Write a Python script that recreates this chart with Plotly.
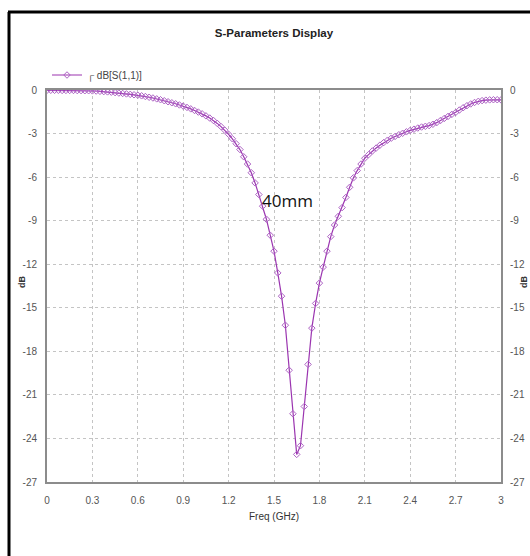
import plotly.graph_objects as go

freq_ghz = [
    0.000, 0.025, 0.050, 0.075, 0.100, 0.125, 0.150, 0.175, 0.200, 0.225,
    0.250, 0.275, 0.300, 0.325, 0.350, 0.375, 0.400, 0.425, 0.450, 0.475,
    0.500, 0.525, 0.550, 0.575, 0.600, 0.625, 0.650, 0.675, 0.700, 0.725,
    0.750, 0.775, 0.800, 0.825, 0.850, 0.875, 0.900, 0.925, 0.950, 0.975,
    1.000, 1.025, 1.050, 1.075, 1.100, 1.125, 1.150, 1.175, 1.200, 1.225,
    1.250, 1.275, 1.300, 1.325, 1.350, 1.375, 1.400, 1.425, 1.450, 1.475,
    1.500, 1.525, 1.550, 1.575, 1.600, 1.625, 1.650, 1.675, 1.700, 1.725,
    1.750, 1.775, 1.800, 1.825, 1.850, 1.875, 1.900, 1.925, 1.950, 1.975,
    2.000, 2.025, 2.050, 2.075, 2.100, 2.125, 2.150, 2.175, 2.200, 2.225,
    2.250, 2.275, 2.300, 2.325, 2.350, 2.375, 2.400, 2.425, 2.450, 2.475,
    2.500, 2.525, 2.550, 2.575, 2.600, 2.625, 2.650, 2.675, 2.700, 2.725,
    2.750, 2.775, 2.800, 2.825, 2.850, 2.875, 2.900, 2.925, 2.950, 2.975,
    3.000,
]

s11_db = [
    -0.02, -0.02, -0.02, -0.02, -0.03, -0.03, -0.03, -0.03, -0.04, -0.04,
    -0.05, -0.05, -0.06, -0.07, -0.09, -0.11, -0.13, -0.15, -0.18, -0.21,
    -0.24, -0.27, -0.30, -0.33, -0.36, -0.40, -0.45, -0.50, -0.55, -0.61,
    -0.67, -0.74, -0.81, -0.88, -0.95, -1.03, -1.11, -1.20, -1.30, -1.41,
    -1.52, -1.64, -1.78, -1.93, -2.10, -2.30, -2.52, -2.77, -3.05, -3.36,
    -3.70, -4.10, -4.60, -5.10, -5.70, -6.40, -7.20, -8.00, -8.90, -10.00,
    -11.10, -12.60, -14.20, -16.20, -19.30, -22.30, -25.10, -24.50, -21.80, -18.90,
    -16.40, -14.70, -13.30, -12.20, -11.10, -10.10, -9.30, -8.70, -8.10, -7.40,
    -6.70, -6.05, -5.55, -5.10, -4.70, -4.45, -4.20, -4.00, -3.80, -3.62,
    -3.46, -3.32, -3.20, -3.08, -2.98, -2.88, -2.78, -2.70, -2.62, -2.55,
    -2.50, -2.45, -2.36, -2.25, -2.10, -1.96, -1.82, -1.68, -1.55, -1.38,
    -1.22, -1.08, -0.96, -0.86, -0.78, -0.73, -0.70, -0.68, -0.67, -0.67,
    -0.68,
]

x_ticks = [0, 0.3, 0.6, 0.9, 1.2, 1.5, 1.8, 2.1, 2.4, 2.7, 3]
x_tick_text = ["0", "0.3", "0.6", "0.9", "1.2", "1.5", "1.8", "2.1", "2.4", "2.7", "3"]
y_ticks = [0, -3, -6, -9, -12, -15, -18, -21, -24, -27]
y_tick_text = ["0", "-3", "-6", "-9", "-12", "-15", "-18", "-21", "-24", "-27"]

series_name = "┌ dB[S(1,1)]"
chart_title = "S-Parameters Display"
note_text = "40mm"
y_title = "dB"

W, H = 530, 556
ML, MR, MT, MB = 47, 29, 90, 74
pw = W - ML - MR
ph = H - MT - MB

FONT = "Liberation Sans Narrow, Arial Narrow, Liberation Sans, Arial, sans-serif"
tick_font = dict(family=FONT, size=10, color="#555555")


def px_x(p):
    return (p - ML) / pw


def px_y(p):
    return (H - MB - p) / ph


fig = go.Figure()
fig.add_trace(go.Scatter(
    x=freq_ghz, y=s11_db, mode="lines+markers", name=series_name,
    line=dict(color="#9b35b0", width=1.2),
    marker=dict(symbol="diamond-open", size=5, color="#ad62c4", line=dict(width=1)),
))
fig.add_trace(go.Scatter(
    x=freq_ghz, y=s11_db, mode="lines", yaxis="y2", showlegend=False,
    line=dict(color="rgba(0,0,0,0)"), hoverinfo="skip",
))

axis_common = dict(
    showline=True, linecolor="#8c8c8c", linewidth=2,
    gridcolor="#c4c4c4", griddash="dot", gridwidth=1,
    zeroline=False, ticks="", tickfont=tick_font, automargin=False,
)

fig.update_layout(
    width=W, height=H,
    margin=dict(l=ML, r=MR, t=MT, b=MB, autoexpand=False),
    paper_bgcolor="white", plot_bgcolor="white",
    title=dict(text="<b>" + chart_title + "</b>", x=(ML + pw / 2) / W, xanchor="center",
               y=1 - 33 / H, yanchor="middle",
               font=dict(family=FONT, size=11.5, color="#222222")),
    xaxis=dict(range=[0, 3], tickvals=x_ticks, ticktext=x_tick_text, mirror=True,
               title=dict(text="Freq (GHz)", standoff=8,
                          font=dict(family=FONT, size=10, color="#333333")),
               ticklabelstandoff=8, **axis_common),
    yaxis=dict(range=[-27, 0], tickvals=y_ticks, ticktext=y_tick_text, mirror=True,
               ticklabelstandoff=6, **axis_common),
    yaxis2=dict(range=[-27, 0], tickvals=y_ticks, ticktext=y_tick_text, overlaying="y",
                side="right", showgrid=False, showline=True, linecolor="#8c8c8c", linewidth=2,
                zeroline=False, ticks="", tickfont=tick_font, ticklabelstandoff=5,
                automargin=False),
    legend=dict(x=0.0, y=px_y(75), xanchor="left", yanchor="middle",
                bgcolor="rgba(0,0,0,0)", itemwidth=30,
                font=dict(family=FONT, size=10, color="#444444")),
    showlegend=True,
)

fig.add_annotation(x=1.59, y=-7.6, xref="x", yref="y", text=note_text, showarrow=False,
                   font=dict(family="Open Sans, Noto Sans, sans-serif", size=17, color="#111111"))

for xp in (22, 524):
    fig.add_annotation(x=px_x(xp), y=px_y(282), xref="paper", yref="paper",
                       text="<b>" + y_title + "</b>", textangle=-90, showarrow=False,
                       xanchor="center", yanchor="middle",
                       font=dict(family=FONT, size=9, color="#333333"))

# outer frame: left and top edges visible
fig.add_shape(type="line", xref="paper", yref="paper",
              x0=px_x(9), x1=px_x(9), y0=px_y(12), y1=px_y(H),
              line=dict(color="black", width=3), layer="above")
fig.add_shape(type="line", xref="paper", yref="paper",
              x0=px_x(8), x1=px_x(W), y0=px_y(12), y1=px_y(12),
              line=dict(color="black", width=3), layer="above")

fig.write_html("out.html")
